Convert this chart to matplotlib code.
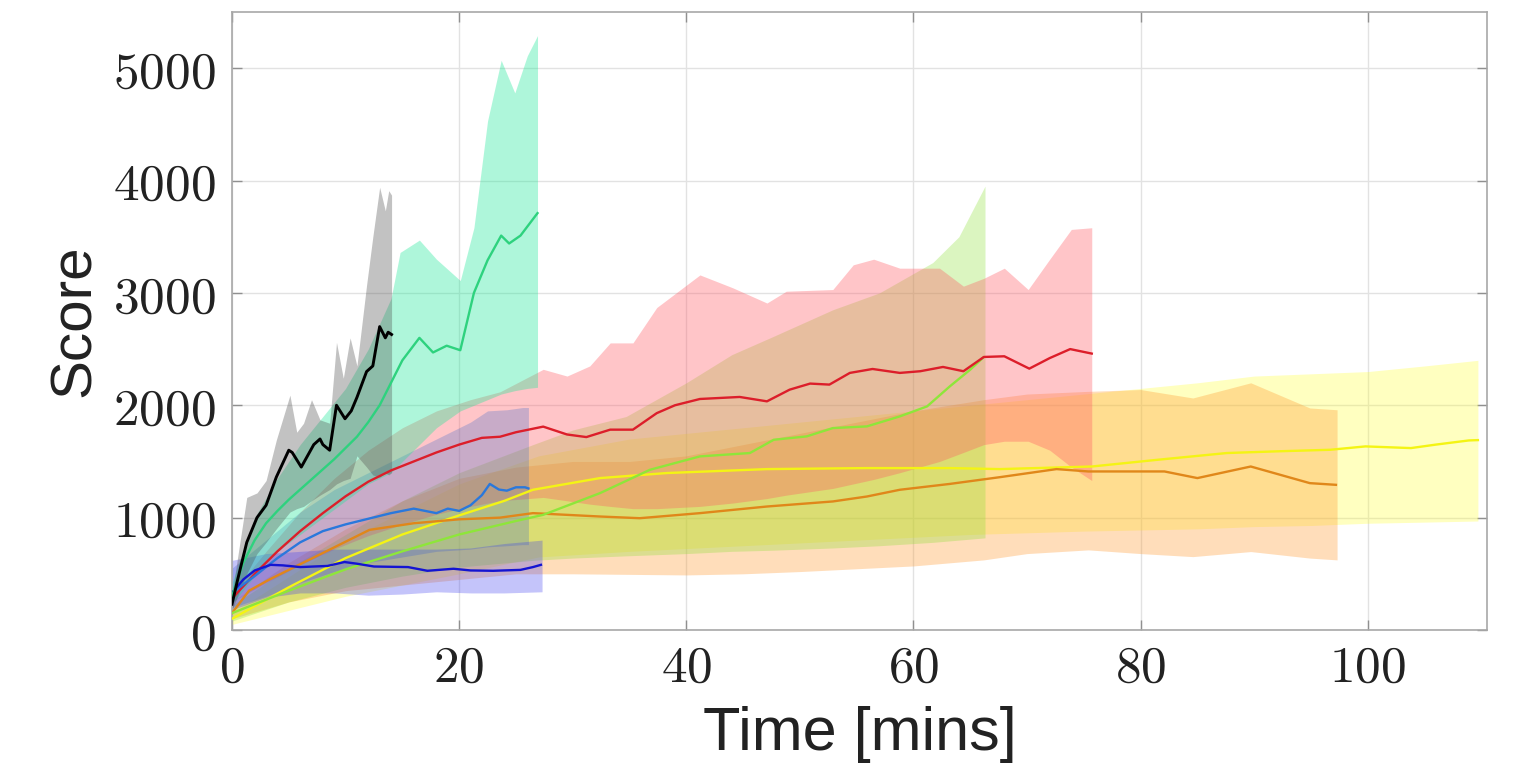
import matplotlib
matplotlib.use("Agg")
import matplotlib.pyplot as plt

# ---------------- data ----------------
x_ticks = [0, 20, 40, 60, 80, 100]
y_ticks = [0, 1000, 2000, 3000, 4000, 5000]
x_label = "Time [mins]"
y_label = "Score"

# black (gray band)
t_k = [0, 0.5, 1.3, 2.2, 3.0, 3.9, 5.0, 5.3, 6.1, 7.2, 7.75, 8.0, 8.6, 9.2, 9.95, 10.5, 11.0, 11.85, 12.4, 13.0, 13.5, 13.75, 14.05]
m_k = [230, 450, 780, 1000, 1110, 1360, 1600, 1580, 1450, 1650, 1700, 1650, 1600, 2000, 1880, 1950, 2070, 2300, 2350, 2700, 2600, 2650, 2630]
tb_k = [0, 1.3, 2.2, 3.0, 3.9, 5.1, 5.7, 6.3, 7.0, 7.75, 8.6, 9.2, 9.8, 10.4, 11.0, 11.85, 12.4, 13.0, 13.5, 13.8, 14.05]
hi_k = [320, 1180, 1220, 1330, 1690, 2090, 1760, 1840, 2050, 1870, 1840, 2560, 2240, 2600, 2350, 3070, 3500, 3940, 3730, 3910, 3870]
lo_k = [180, 500, 680, 780, 900, 1050, 1080, 1100, 1150, 1200, 1250, 1300, 1330, 1350, 1550, 1450, 1380, 1360, 1400, 1380, 1400]

# teal
t_g = [0, 1, 2, 3, 4, 5, 6, 7, 8, 9, 10, 11, 12, 13, 14, 15, 16.5, 17.7, 18.9, 20.1, 21.3, 22.5, 23.7, 24.4, 25.4, 26.9]
m_g = [300, 600, 800, 950, 1060, 1160, 1250, 1340, 1430, 1520, 1620, 1720, 1850, 2000, 2200, 2400, 2600, 2470, 2530, 2490, 3000, 3290, 3510, 3440, 3510, 3710]
tb_g = [0, 2, 4, 6, 8, 10, 12, 14, 14.8, 16.5, 18, 20.1, 21.3, 22.5, 23.7, 24.9, 26.0, 26.9]
hi_g = [420, 1000, 1350, 1650, 1900, 2150, 2500, 2950, 3360, 3470, 3300, 3110, 3580, 4530, 5070, 4780, 5110, 5290]
lo_g = [230, 480, 700, 850, 1000, 1150, 1300, 1400, 1480, 1650, 1800, 1950, 2000, 2050, 2100, 2130, 2150, 2160]

# red
t_r = [0, 2, 4, 6, 8, 10, 12, 14, 16, 18, 20, 22, 23.6, 25, 27.4, 29.5, 31.2, 33.3, 35.3, 37.4, 39, 41.2, 44.7, 47.1, 49.1, 50.9, 52.6, 54.4, 56.4, 58.8, 60.6, 62.6, 64.4, 66.2, 68.0, 70.2, 72.0, 73.8, 75.7]
m_r = [280, 500, 700, 880, 1040, 1190, 1320, 1420, 1500, 1580, 1650, 1710, 1720, 1760, 1810, 1740, 1717, 1783, 1783, 1930, 2000, 2056, 2074, 2035, 2139, 2193, 2184, 2288, 2323, 2288, 2303, 2341, 2303, 2430, 2436, 2326, 2420, 2500, 2460]
tb_r = [0, 3, 6, 9, 12, 15, 18, 21, 23.6, 27.4, 29.5, 31.5, 33.3, 35.3, 37.4, 41.2, 44.1, 47.1, 48.8, 52.9, 54.7, 56.5, 58.8, 62.3, 64.4, 66.2, 68.0, 70.1, 72.0, 73.9, 75.7]
hi_r = [330, 700, 1050, 1350, 1600, 1800, 1950, 2050, 2120, 2320, 2260, 2350, 2555, 2555, 2870, 3160, 3045, 2910, 3015, 3030, 3250, 3300, 3220, 3220, 3060, 3130, 3220, 3030, 3300, 3565, 3580]
lo_r = [250, 420, 580, 720, 840, 940, 1030, 1100, 1150, 1180, 1150, 1120, 1100, 1080, 1080, 1100, 1130, 1170, 1200, 1260, 1300, 1340, 1400, 1500, 1580, 1650, 1680, 1680, 1600, 1450, 1330]

# light blue
t_b = [0, 2, 4, 6, 8, 10, 12, 14, 16, 18, 19, 20, 21, 22, 22.7, 23.5, 24.2, 25, 25.8, 26.1]
m_b = [330, 480, 640, 780, 880, 940, 990, 1040, 1080, 1040, 1080, 1060, 1110, 1200, 1300, 1250, 1240, 1270, 1270, 1260]
tb_b = [0, 3, 6, 9, 12, 15, 18, 21, 22.5, 24.2, 25.6, 26.1]
hi_b = [550, 800, 1050, 1250, 1400, 1550, 1700, 1850, 1950, 1960, 1980, 1980]
lo_b = [200, 300, 420, 520, 600, 650, 700, 720, 740, 750, 760, 760]

# dark blue
t_d = [0, 1, 2, 3.4, 4.5, 6.0, 8.4, 9.9, 11, 12.5, 15.5, 17.2, 19.5, 21, 23.0, 25.4, 26.5, 27.2]
m_d = [330, 450, 530, 580, 575, 560, 570, 605, 590, 565, 560, 527, 545, 530, 527, 535, 560, 580]
tb_d = [0, 3, 6, 9, 12, 15, 18, 21, 24, 27.3]
hi_d = [620, 680, 700, 720, 720, 720, 720, 730, 770, 800]
lo_d = [180, 290, 330, 330, 310, 320, 340, 330, 330, 340]

# lime
t_l = [0, 5, 10, 15, 20, 25, 27.4, 32.4, 36.8, 41.2, 45.6, 47.7, 50.6, 52.9, 55.9, 58.8, 61.2, 63.2, 65.0, 66.1]
m_l = [150, 350, 540, 700, 850, 970, 1025, 1218, 1426, 1545, 1575, 1693, 1723, 1797, 1812, 1901, 1990, 2168, 2317, 2421]
tb_l = [0, 5, 10, 15, 20, 26.5, 30, 34.7, 40, 44, 47.6, 52.9, 57, 61.7, 64, 66.3]
hi_l = [220, 550, 850, 1150, 1400, 1650, 1780, 1900, 2200, 2450, 2610, 2850, 3000, 3270, 3500, 3950]
lo_l = [80, 250, 380, 480, 560, 620, 640, 660, 680, 700, 710, 730, 750, 780, 800, 820]

# yellow
t_y = [0, 5, 10, 15, 20, 24, 26.5, 32.4, 38.3, 47.1, 55.9, 63.2, 67.6, 75.7, 81.5, 87.6, 92, 96.7, 99.8, 103.8, 106, 108.9, 109.7]
m_y = [100, 380, 640, 850, 1020, 1150, 1248, 1352, 1397, 1432, 1441, 1441, 1432, 1455, 1515, 1575, 1590, 1604, 1634, 1619, 1650, 1687, 1690]
tb_y = [0, 10, 20, 27, 35, 45, 55, 65, 75, 85, 90, 95, 100, 105, 109.7]
hi_y = [150, 800, 1300, 1550, 1700, 1800, 1900, 2000, 2100, 2200, 2260, 2280, 2300, 2350, 2400]
lo_y = [50, 300, 500, 650, 700, 750, 800, 850, 880, 900, 920, 930, 950, 960, 970]

# orange
t_o = [0, 1.5, 3.4, 7.75, 12.1, 16, 20, 23.6, 26.5, 32.4, 35.9, 41.2, 47.1, 52.9, 55.9, 58.8, 63.2, 67.6, 72.6, 75.4, 82.1, 85.0, 89.7, 94.9, 97.2]
m_o = [150, 350, 455, 673, 891, 950, 985, 1000, 1040, 1010, 995, 1040, 1099, 1144, 1188, 1248, 1300, 1360, 1432, 1411, 1411, 1352, 1455, 1307, 1292]
tb_o = [0, 5, 10, 15, 20, 25, 30, 35, 40, 45, 50, 55, 60, 66.2, 70, 75.4, 80, 84.6, 89.7, 94.9, 97.3]
hi_o = [250, 600, 900, 1150, 1350, 1450, 1500, 1500, 1550, 1650, 1750, 1850, 1950, 2050, 2100, 2124, 2140, 2065, 2200, 1976, 1960]
lo_o = [100, 250, 350, 400, 450, 500, 500, 495, 490, 500, 520, 545, 570, 624, 680, 713, 680, 653, 698, 640, 624]

# ---------------- plot ----------------
plt.rcParams['mathtext.fontset'] = 'cm'
fig = plt.figure(figsize=(15.22, 7.84), dpi=100)
ax = fig.add_axes([232/1522, 1 - 630/784, (1487-232)/1522, (630-12)/784])

series = [
    # (t, m, tb, lo, hi, line color, fill color, alpha, lw)
    (t_y, m_y, tb_y, lo_y, hi_y, '#f4f414', '#ffff30', 0.30, 1.7),
    (t_o, m_o, tb_o, lo_o, hi_o, '#e0871a', '#ff9a30', 0.33, 1.7),
    (t_l, m_l, tb_l, lo_l, hi_l, '#8ee63a', '#88e030', 0.30, 1.7),
    (t_r, m_r, tb_r, lo_r, hi_r, '#dc1e2a', '#ff5a64', 0.35, 1.7),
    (t_b, m_b, tb_b, lo_b, hi_b, '#2a78dc', '#3a6ac8', 0.28, 1.7),
    (t_d, m_d, tb_d, lo_d, hi_d, '#1414d2', '#3c3cf0', 0.30, 1.7),
    (t_g, m_g, tb_g, lo_g, hi_g, '#2ed27e', '#18e896', 0.35, 1.7),
    (t_k, m_k, tb_k, lo_k, hi_k, '#000000', '#505050', 0.35, 2.1),
]

for t, m, tb, lo, hi, lc, fc, a, lw in series:
    ax.fill_between(tb, lo, hi, color=fc, alpha=a, linewidth=0, zorder=2)
for t, m, tb, lo, hi, lc, fc, a, lw in series:
    ax.plot(t, m, color=lc, linewidth=lw, zorder=3)

ax.set_xlim(0, 110.5)
ax.set_ylim(0, 5500)
ax.set_xticks(x_ticks)
ax.set_yticks(y_ticks)
ax.set_xticklabels([r'$%d$' % v for v in x_ticks])
ax.set_yticklabels([r'$%d$' % v for v in y_ticks])
ax.tick_params(direction='in', length=7, width=1, colors='#909090',
               labelcolor='#222222', labelsize=37, top=True, right=True)
ax.tick_params(axis='x', pad=9)
ax.tick_params(axis='y', pad=12)
ax.grid(True, color='#e2e2e2', linewidth=1.0, zorder=0)
ax.set_axisbelow(True)
for s in ax.spines.values():
    s.set_color('#a8a8a8')
    s.set_linewidth(1.2)

lab_font = ['Liberation Sans', 'DejaVu Sans']
ax.set_xlabel(x_label, fontsize=44, family=lab_font, color='#222222', labelpad=10)
ax.set_ylabel(y_label, fontsize=42, family=lab_font, color='#222222', labelpad=8)

fig.savefig('out.png', dpi=100)
